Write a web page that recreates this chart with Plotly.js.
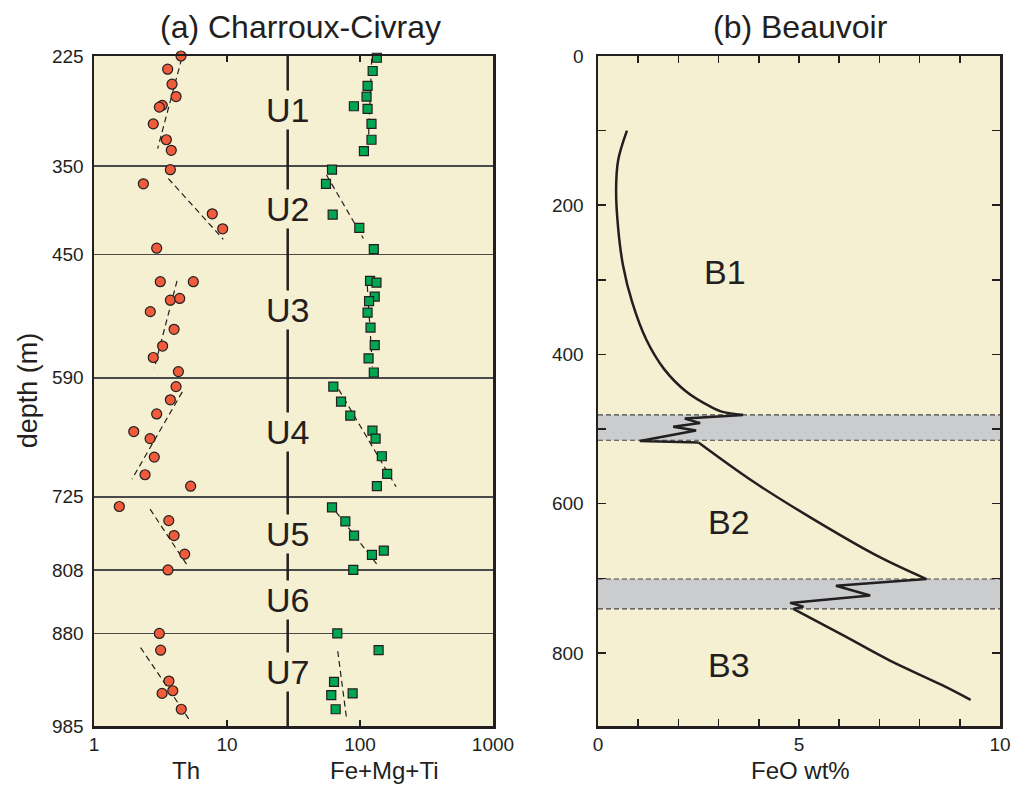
<!DOCTYPE html>
<html><head><meta charset="utf-8">
<script src="https://cdn.plot.ly/plotly-3.0.1.min.js"></script>
<style>html,body{margin:0;padding:0;background:#fff}#chart{width:1025px;height:787px}</style>
</head><body><div id="chart"></div>
<script>
// ---------- (a) Charroux-Civray ----------
const depthTicks = [225, 350, 450, 590, 725, 808, 880, 985];
const unitNames = ['U1','U2','U3','U4','U5','U6','U7'];
const unitLabelDepth = [286, 398, 513, 651, 767, 842, 924];
const dividerX = 28.6;

const thValue = [4.51,3.58,3.86,4.14,3.26,3.10,2.79,3.50,3.81,
  3.75,2.35,7.75,9.28,2.96,
  3.15,5.58,3.75,4.41,2.65,4.0,3.28,2.79,4.31,
  4.14,3.75,2.96,1.99,2.64,2.84,2.42,5.33,
  1.55,3.65,4.0,4.81,3.60,
  3.10,3.17,3.66,3.91,3.25,4.53];
const thDepth = [225,240,257,271,281,283,302,320,332,
  354,370,404,421,443,
  481,481,502,500,515,535,554,567,583,
  600,615,631,651,659,680,700,713,
  736,752,769,790,808,
  880,899,934,945,948,966];
const thTrendX = [4.56,3.01,null,3.62,9.38,null,4.21,2.84,null,4.61,1.93,null,2.64,5.09,null,2.24,5.27];
const thTrendD = [228,330,null,364,433,null,480,579,null,606,705,null,739,804,null,896,979];

const fmtValue = [134,124.5,114,112,90,114,122,122,107,
  61.6,55.5,62.3,98.8,127,
  119,133,129,117,114,120,129,116,127,
  63,72,84.5,124,131,146,160,134,
  61.6,77.6,90.2,123,151,89,
  67.5,138,63.8,60.8,88,65.6];
const fmtDepth = [227,242,259,271,282,285,302,320,333,
  354,370,405,420,444,
  480,482,498,503,516,533,553,568,584,
  600,617,633,650,659,679,699,713,
  737,753,769,791,786,808,
  880,899,935,950,948,966];
const fmtTrendX = [122.5,115,null,56,106,null,113.5,124,null,69,186.6,null,66,138,null,68,79.5];
const fmtTrendD = [228,331,null,360,432,null,486,577.5,null,603,713.5,null,742,804,null,900,978];

// ---------- (b) Beauvoir : FeO profile, smooth zones and jagged bands ----------
const b1Value = [0.72,0.5,0.45,0.5,0.62,0.85,1.2,1.65,2.2,2.8,3.1,3.61];
const b1Depth = [100,140,180,230,280,330,380,420,450,470,477,481];
const band1Value = [3.61,2.16,2.54,1.87,2.44,1.04,2.5];
const band1Depth = [481,486,492,497,502,516,518];
const b2Value = [2.5,3.85,5.27,6.95,8.17];
const b2Depth = [518,570,618,670,701];
const band2Value = [8.17,5.92,6.77,4.78,5.11,4.86];
const band2Depth = [701,710,723,733,738,741];
const b3Value = [4.86,6.15,7.25,8.55,9.27];
const b3Depth = [741,778,810,843,863];
const bandTop = [481, 701];
const bandBottom = [515, 741];
const zoneNames = ['B1','B2','B3'];
const zoneX = [3.15, 3.26, 3.26];
const zoneDepth = [290, 625, 816];

const ink = '#231F20';
const cream = '#F6F0D2';
const FONT = 'Liberation Sans, Arial, sans-serif';

const feoLine = (x, y, smooth) => ({x, y, xaxis:'x2', yaxis:'y2', mode:'lines',
  line:{color:ink, width:2.5, shape: smooth ? 'spline' : 'linear', smoothing:1}});

const traces = [
  {x: thTrendX, y: thTrendD, xaxis:'x', yaxis:'y', mode:'lines', line:{color:ink, width:1.2, dash:'6px,4px'}, connectgaps:false},
  {x: fmtTrendX, y: fmtTrendD, xaxis:'x', yaxis:'y', mode:'lines', line:{color:ink, width:1.2, dash:'6px,4px'}, connectgaps:false},
  {x: thValue, y: thDepth, xaxis:'x', yaxis:'y', mode:'markers', cliponaxis:false,
   marker:{symbol:'circle', size:10, color:'#EF5B3B', line:{color:ink, width:1.2}}},
  {x: fmtValue, y: fmtDepth, xaxis:'x', yaxis:'y', mode:'markers', cliponaxis:false,
   marker:{symbol:'square', size:9, color:'#00A651', line:{color:ink, width:1.2}}},
  feoLine(b1Value, b1Depth, true),
  feoLine(band1Value, band1Depth, false),
  feoLine(b2Value, b2Depth, true),
  feoLine(band2Value, band2Depth, false),
  feoLine(b3Value, b3Depth, true)
];

const shapes = [
  {type:'line', xref:'x', yref:'y domain', x0:dividerX, x1:dividerX, y0:0, y1:1, line:{color:ink, width:2.5}, layer:'above'}
];
bandTop.forEach((t,i)=>{
  shapes.push({type:'rect', xref:'x2 domain', yref:'y2', x0:0, x1:1, y0:t, y1:bandBottom[i], fillcolor:'#CBCCCE', line:{width:0}, layer:'below'});
  shapes.push({type:'line', xref:'x2 domain', yref:'y2', x0:0, x1:1, y0:t, y1:t, line:{color:'#444', width:1.2, dash:'5px,3px'}, layer:'below'});
  shapes.push({type:'line', xref:'x2 domain', yref:'y2', x0:0, x1:1, y0:bandBottom[i], y1:bandBottom[i], line:{color:'#444', width:1.2, dash:'5px,3px'}, layer:'below'});
});

const annotations = [];
unitNames.forEach((u,i)=>{
  annotations.push({x:Math.log10(dividerX), y:unitLabelDepth[i], xref:'x', yref:'y', text:u, showarrow:false,
    font:{family:FONT, size:34, color:ink}, bgcolor:cream, borderpad:0, xanchor:'center', yanchor:'middle'});
});
zoneNames.forEach((z,i)=>{
  annotations.push({x:zoneX[i], y:zoneDepth[i], xref:'x2', yref:'y2', text:z, showarrow:false,
    font:{family:FONT, size:34, color:ink}, xanchor:'center', yanchor:'middle'});
});
const txt = (text, x, y, size, extra) => Object.assign({text, x, y, xref:'paper', yref:'paper', showarrow:false,
  font:{family:FONT, size, color:ink}, xanchor:'center', yanchor:'middle'}, extra||{});
annotations.push(txt('(a) Charroux-Civray', 300/1025, 1+29/670, 32));
annotations.push(txt('(b) Beauvoir', 800/1025, 1+29/670, 32));
annotations.push(txt('depth (m)', 28/1025, 0.501, 27, {textangle:-90}));
annotations.push(txt('Th', 186/1025, -44/670, 24));
annotations.push(txt('Fe+Mg+Ti', 384/1025, -44/670, 24));
annotations.push(txt('FeO wt%', 800/1025, -44/670, 24));

const layout = {
  width:1025, height:787,
  margin:{l:0, r:0, t:56, b:61},
  paper_bgcolor:'#ffffff', plot_bgcolor:cream,
  showlegend:false,
  font:{family:FONT, color:ink, size:19},
  xaxis:{domain:[94/1025, 493/1025], type:'log', range:[0,3],
    tickvals:[1,10,100,1000], ticktext:['1','10','100','1000'],
    ticks:'inside', ticklen:6, tickwidth:1.5, tickcolor:ink,
    showline:true, linecolor:ink, linewidth:2.5, mirror:'ticks', showgrid:false, zeroline:false,
    tickfont:{size:19, family:FONT, color:ink}},
  yaxis:{domain:[0,1], range:[985,225], tickvals:depthTicks, ticktext:depthTicks.map(String),
    ticks:'', showline:true, linecolor:ink, linewidth:2.5, mirror:true,
    showgrid:true, gridcolor:'#4a4a4a', gridwidth:1.5, zeroline:false, ticklabelstandoff:4,
    tickfont:{size:19, family:FONT, color:ink}},
  xaxis2:{domain:[598/1025, 1000/1025], range:[0,10], anchor:'y2',
    tickvals:[0,1,2,3,4,5,6,7,8,9,10], ticktext:['0','','','','','5','','','','','10'],
    ticks:'inside', ticklen:7, tickwidth:1.5, tickcolor:ink,
    showline:true, linecolor:ink, linewidth:2.5, mirror:'ticks', showgrid:false, zeroline:false,
    tickfont:{size:19, family:FONT, color:ink}},
  yaxis2:{domain:[0,1], range:[898,0], anchor:'x2',
    tickvals:[0,100,200,300,400,500,600,700,800], ticktext:['0','','200','','400','','600','','800'],
    ticks:'inside', ticklen:8, tickwidth:1.5, tickcolor:ink,
    showline:true, linecolor:ink, linewidth:2.5, mirror:'ticks', showgrid:false, zeroline:false,
    ticklabelstandoff:8, tickfont:{size:19, family:FONT, color:ink}},
  shapes, annotations
};
Plotly.newPlot('chart', traces, layout, {staticPlot:true, displayModeBar:false});
</script></body></html>
